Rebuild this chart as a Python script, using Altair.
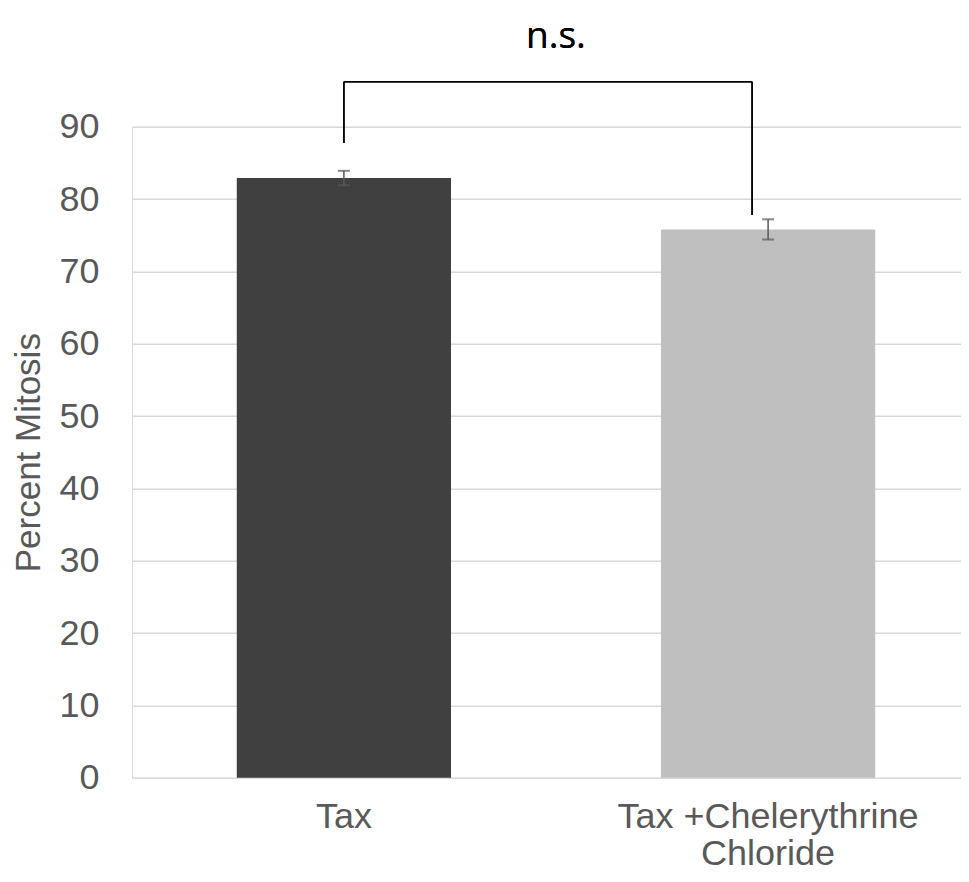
import altair as alt
import pandas as pd

categories = ["Tax", "Tax +Chelerythrine Chloride"]
values = [82.9, 75.8]
errors = [1.0, 1.4]
bar_colors = ["#404040", "#BFBFBF"]
y_ticks = [0, 10, 20, 30, 40, 50, 60, 70, 80, 90]

bracket_top = 96.2
bracket_left_bottom = 87.75
bracket_right_bottom = 77.8
sig_label = "n.s."
sig_label_y = 100.9

df = pd.DataFrame({
    "cat": categories,
    "value": values,
    "lo": [v - e for v, e in zip(values, errors)],
    "hi": [v + e for v, e in zip(values, errors)],
})

x_scale = alt.Scale(domain=categories, range=[0, 848], paddingInner=0.495, paddingOuter=0.247)
y_scale = alt.Scale(domain=[0, 90], nice=False, zero=True)

label_expr = ("datum.label == 'Tax +Chelerythrine Chloride' ? "
              "['Tax +Chelerythrine', 'Chloride'] : datum.label")

x_enc = alt.X("cat:N", scale=x_scale, sort=categories, title=None,
              axis=alt.Axis(labelExpr=label_expr, labelAngle=0, labelFontSize=36,
                            labelColor="#595959", labelFont="Liberation Sans",
                            labelPadding=22, labelLineHeight=37, labelLimit=0,
                            ticks=False, domain=False, grid=False))

bars = alt.Chart(df).mark_bar().encode(
    x=x_enc,
    y=alt.Y("value:Q", scale=y_scale, title="Percent Mitosis",
            axis=alt.Axis(values=y_ticks, labelFontSize=36, labelColor="#595959",
                          labelFont="Liberation Sans", labelPadding=33,
                          ticks=False, domain=False, grid=True,
                          gridColor="#D9D9D9", gridWidth=1.5,
                          titleFontSize=35, titleColor="#595959",
                          titleFont="Liberation Sans", titleFontWeight="normal",
                          titlePadding=12)),
    color=alt.Color("cat:N", scale=alt.Scale(domain=categories, range=bar_colors),
                    legend=None),
)

err_rule = alt.Chart(df).mark_rule(color="#595959", strokeWidth=1.5).encode(
    x=alt.X("cat:N", scale=x_scale, sort=categories),
    y=alt.Y("lo:Q", scale=y_scale),
    y2="hi:Q",
)
err_cap_hi = alt.Chart(df).mark_tick(color="#595959", size=12, thickness=2, orient="horizontal").encode(
    x=alt.X("cat:N", scale=x_scale, sort=categories),
    y=alt.Y("hi:Q", scale=y_scale),
)
err_cap_lo = alt.Chart(df).mark_tick(color="#595959", size=12, thickness=2, orient="horizontal").encode(
    x=alt.X("cat:N", scale=x_scale, sort=categories),
    y=alt.Y("lo:Q", scale=y_scale),
)

br_h = alt.Chart(df).mark_rule(color="black", strokeWidth=1.5, x2Offset=-16).encode(
    x=alt.datum(categories[0], scale=x_scale),
    x2=alt.datum(categories[1]),
    y=alt.datum(bracket_top, scale=y_scale),
)
br_l = alt.Chart(df).mark_rule(color="black", strokeWidth=1.5).encode(
    x=alt.datum(categories[0], scale=x_scale),
    y=alt.datum(bracket_top, scale=y_scale),
    y2=alt.datum(bracket_left_bottom),
)
br_r = alt.Chart(df).mark_rule(color="black", strokeWidth=1.5, xOffset=-16).encode(
    x=alt.datum(categories[1], scale=x_scale),
    y=alt.datum(bracket_top, scale=y_scale),
    y2=alt.datum(bracket_right_bottom),
)
sig = alt.Chart(df).mark_text(font="Open Sans", fontSize=37, color="black",
                              baseline="alphabetic", align="center", xOffset=212).encode(
    x=alt.datum(categories[0], scale=x_scale),
    y=alt.datum(sig_label_y, scale=y_scale),
    text=alt.value(sig_label),
)

chart = alt.layer(bars, err_rule, err_cap_hi, err_cap_lo, br_h, br_l, br_r, sig).properties(
    width=829, height=651,
    autosize=alt.AutoSizeParams(type="none"),
    padding={"left": 124, "top": 118.7, "right": 0, "bottom": 96},
).configure_view(stroke=None).configure(background="white")

chart.save("out.html", embed_options={"renderer": "svg", "actions": False})
